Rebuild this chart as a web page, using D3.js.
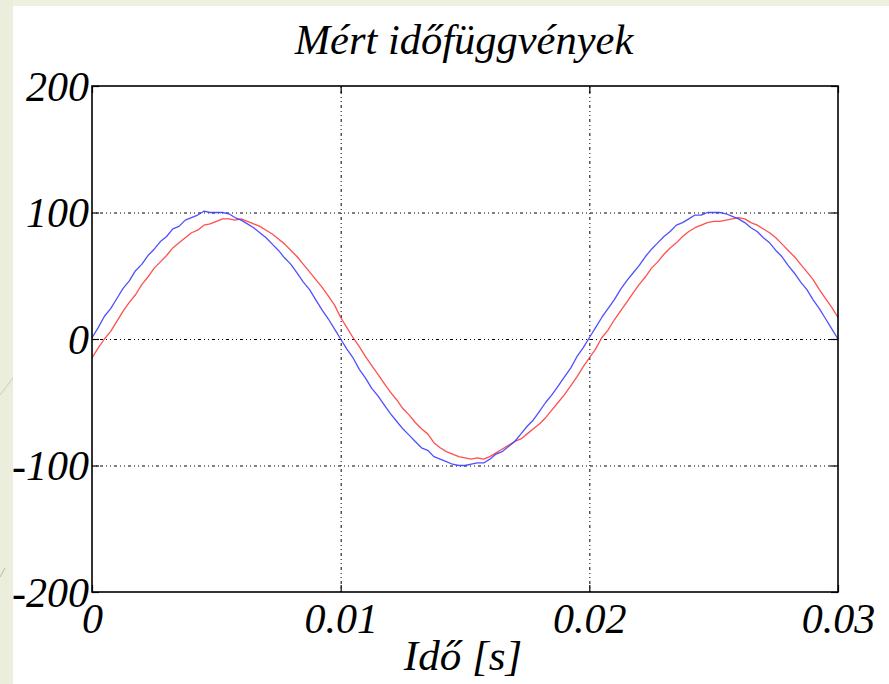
<!DOCTYPE html>
<html>
<head>
<meta charset="utf-8">
<script src="https://cdn.jsdelivr.net/npm/d3@7"></script>
<style>
  html, body { margin: 0; padding: 0; background: #ffffff; }
  svg { display: block; }
  .lbl { font-family: "Liberation Serif", "Times New Roman", serif; font-style: italic; fill: #000; }
</style>
</head>
<body>
<div id="chart"></div>
<script>
// sample time step of the measured traces [s]
const timeStep = 0.00025;

// blue trace
const blueValues = [
    1, 9, 18, 24, 32, 40, 46, 54, 59, 66,
    71, 77, 81, 87, 89, 94, 96, 98, 101, 100,
    100, 100, 99, 96, 94, 91, 88, 84, 80, 75,
    70, 64, 59, 52, 45, 39, 31, 23, 16, 8,
    0, -8, -15, -24, -31, -39, -45, -52, -59, -65,
    -71, -76, -81, -86, -88, -93, -95, -97, -99, -100,
    -100, -99, -98, -98, -95, -91, -89, -85, -81, -75,
    -69, -64, -57, -50, -44, -37, -30, -23, -14, -7,
    1, 9, 17, 24, 31, 39, 46, 52, 58, 65,
    71, 76, 81, 85, 90, 92, 95, 98, 98, 100,
    100, 100, 99, 97, 95, 92, 88, 85, 80, 76,
    70, 65, 58, 52, 45, 39, 31, 24, 16, 8,
    0
];

// red trace
const redValues = [
    -15, -7, 0, 6, 14, 22, 29, 35, 43, 49,
    56, 61, 66, 72, 76, 80, 84, 86, 90, 91,
    93, 95, 95, 94, 95, 93, 91, 89, 86, 83,
    79, 75, 70, 65, 59, 53, 47, 41, 34, 27,
    17, 9, 1, -6, -14, -21, -28, -35, -42, -48,
    -55, -60, -66, -71, -75, -82, -86, -89, -91, -93,
    -94, -95, -94, -95, -93, -90, -87, -84, -81, -79,
    -75, -71, -67, -62, -56, -50, -44, -37, -30, -22,
    -15, -8, 1, 7, 15, 22, 29, 36, 43, 49,
    56, 61, 67, 72, 76, 81, 85, 88, 90, 92,
    93, 93, 94, 95, 96, 95, 92, 90, 87, 84,
    80, 75, 70, 65, 59, 53, 47, 39, 32, 25,
    17
];

const xTicks = [0, 0.01, 0.02, 0.03];
const xTickLabels = ["0", "0.01", "0.02", "0.03"];
const yTicks = [-200, -100, 0, 100, 200];
const yTickLabels = ["-200", "-100", "0", "100", "200"];

const titleText = "Mért időfüggvények";
const xLabelText = "Idő [s]";

const width = 889;
const height = 684;
const plotLeft = 92, plotRight = 838, plotTop = 86, plotBottom = 592;

const svg = d3.select("#chart").append("svg")
    .attr("width", width)
    .attr("height", height);

// slide background strips
svg.append("rect").attr("x", 0).attr("y", 0).attr("width", width).attr("height", 6).attr("fill", "#eef0e0");
svg.append("rect").attr("x", 0).attr("y", 0).attr("width", 13).attr("height", height).attr("fill", "#eceedd");
svg.append("line").attr("x1", 0).attr("y1", 395).attr("x2", 13).attr("y2", 378)
    .attr("stroke", "#c9ccbb").attr("stroke-width", 1);
svg.append("line").attr("x1", 0).attr("y1", 577).attr("x2", 5).attr("y2", 568)
    .attr("stroke", "#b8bba9").attr("stroke-width", 1);

const x = d3.scaleLinear().domain([0, 0.03]).range([plotLeft, plotRight]);
const y = d3.scaleLinear().domain([-200, 200]).range([plotBottom, plotTop]);

const vis = svg.append("g");

// grid
vis.append("g")
    .attr("transform", `translate(0,${plotBottom})`)
    .call(d3.axisBottom(x).tickValues(xTicks.slice(1, -1)).tickSize(-(plotBottom - plotTop)).tickFormat(""))
    .call(g => g.select(".domain").remove())
    .selectAll("line")
    .attr("stroke", "#000")
    .attr("stroke-width", 1)
    .attr("stroke-dasharray", "1,3,1,3,3,3");

vis.append("g")
    .attr("transform", `translate(${plotLeft},0)`)
    .call(d3.axisLeft(y).tickValues(yTicks.slice(1, -1)).tickSize(-(plotRight - plotLeft)).tickFormat(""))
    .call(g => g.select(".domain").remove())
    .selectAll("line")
    .attr("stroke", "#000")
    .attr("stroke-width", 1)
    .attr("stroke-dasharray", "1,3,1,3,3,3");

// inward ticks on all four sides
const tickLen = 7;
vis.append("g").attr("transform", `translate(0,${plotBottom})`)
    .call(d3.axisBottom(x).tickValues(xTicks).tickSize(-tickLen).tickFormat(""))
    .call(g => g.select(".domain").remove());
vis.append("g").attr("transform", `translate(0,${plotTop})`)
    .call(d3.axisTop(x).tickValues(xTicks).tickSize(-tickLen).tickFormat(""))
    .call(g => g.select(".domain").remove());
vis.append("g").attr("transform", `translate(${plotLeft},0)`)
    .call(d3.axisLeft(y).tickValues(yTicks).tickSize(-tickLen).tickFormat(""))
    .call(g => g.select(".domain").remove());
vis.append("g").attr("transform", `translate(${plotRight},0)`)
    .call(d3.axisRight(y).tickValues(yTicks).tickSize(-tickLen).tickFormat(""))
    .call(g => g.select(".domain").remove());
vis.selectAll(".tick line").filter(function () { return !this.getAttribute("stroke-dasharray"); })
    .attr("stroke", "#000").attr("stroke-width", 1.2);

// traces
const line = d3.line()
    .x((d, i) => x(i * timeStep))
    .y(d => y(d));

vis.append("path")
    .datum(redValues)
    .attr("fill", "none")
    .attr("stroke", "#ff3c3c")
    .attr("stroke-opacity", 0.9)
    .attr("stroke-width", 1.3)
    .attr("stroke-linejoin", "round")
    .attr("d", line);

vis.append("path")
    .datum(blueValues)
    .attr("fill", "none")
    .attr("stroke", "#3c3cff")
    .attr("stroke-opacity", 0.9)
    .attr("stroke-width", 1.3)
    .attr("stroke-linejoin", "round")
    .attr("d", line);

// axes box
vis.append("rect")
    .attr("x", plotLeft).attr("y", plotTop)
    .attr("width", plotRight - plotLeft).attr("height", plotBottom - plotTop)
    .attr("fill", "none").attr("stroke", "#000").attr("stroke-width", 1.6);

// tick labels
const xAxis = vis.append("g")
    .attr("transform", `translate(0,${plotBottom})`)
    .call(d3.axisBottom(x).tickValues(xTicks).tickSize(0).tickFormat((d, i) => xTickLabels[i]));
xAxis.select(".domain").remove();
xAxis.selectAll("text")
    .attr("class", "lbl")
    .attr("y", 41).attr("dy", 0)
    .style("font-size", "42px");

const yAxis = vis.append("g")
    .attr("transform", `translate(${plotLeft},0)`)
    .call(d3.axisLeft(y).tickValues(yTicks).tickSize(0).tickFormat((d, i) => yTickLabels[i]));
yAxis.select(".domain").remove();
yAxis.selectAll("text")
    .attr("class", "lbl")
    .attr("x", -3).attr("dy", "0.34em")
    .style("font-size", "42px");
yAxis.attr("font-family", null).attr("font-size", null);
xAxis.attr("font-family", null).attr("font-size", null);

// title and axis label
svg.append("text")
    .attr("class", "lbl")
    .attr("x", 464).attr("y", 54)
    .attr("text-anchor", "middle")
    .style("font-size", "42.5px")
    .text(titleText);

svg.append("text")
    .attr("class", "lbl")
    .attr("x", 463).attr("y", 670)
    .attr("text-anchor", "middle")
    .style("font-size", "43px")
    .text(xLabelText);
</script>
</body>
</html>
